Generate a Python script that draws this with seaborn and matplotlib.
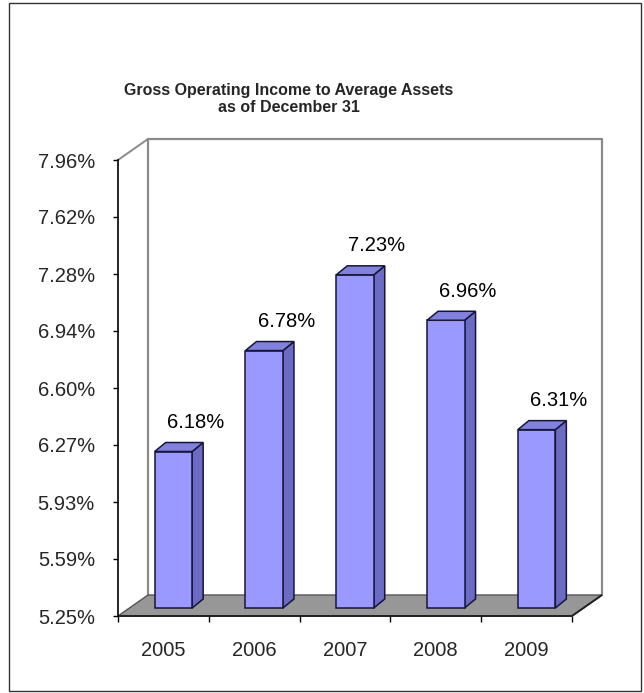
import matplotlib
matplotlib.use("Agg")
import matplotlib.pyplot as plt
from matplotlib.patches import Polygon, Rectangle
import numpy as np
import pandas as pd
import seaborn as sns

# ---- data -------------------------------------------------------------
years = ["2005", "2006", "2007", "2008", "2009"]
ratios = [6.18, 6.78, 7.23, 6.96, 6.31]
value_labels = ["6.18%", "6.78%", "7.23%", "6.96%", "6.31%"]
y_tick_labels = ["5.25%", "5.59%", "5.93%", "6.27%", "6.60%",
                 "6.94%", "7.28%", "7.62%", "7.96%"]
title_lines = ["Gross Operating Income to Average Assets", "as of December 31"]

Y_MIN, Y_MAX = 5.25, 7.96

# ---- style ------------------------------------------------------------
sns.set_theme(style="white")
plt.rcParams["font.family"] = ["Liberation Sans", "DejaVu Sans"]

FRONT = "#9999ff"
SIDE = "#6b6bc4"
TOP = "#8282de"
EDGE = "#16163a"
FLOOR = "#979797"
WALL = "#8a8a8a"
LABEL_SIZE = 14.5

W, H, DPI = 644, 693, 100
fig = plt.figure(figsize=(W / DPI, H / DPI), dpi=DPI)
fig.patch.set_facecolor("white")

# plotting area (front plane of the 3-D box)
ax_l, ax_r, ax_t, ax_b = 118, 572, 160, 616
ax = fig.add_axes([ax_l / W, 1 - ax_b / H, (ax_r - ax_l) / W, (ax_b - ax_t) / H])

df = pd.DataFrame({"year": years, "ratio": ratios})
sns.barplot(data=df, x="year", y="ratio", ax=ax, width=0.413, color=FRONT,
            saturation=1, edgecolor=EDGE, linewidth=1.1, zorder=5)
ax.set_xlim(-0.5, len(years) - 0.5)
ax.set_ylim(Y_MIN, Y_MAX)
ax.set_xlabel("")
ax.set_ylabel("")

# pixel -> data unit helpers for the oblique depth projection
ux = (ax_r - ax_l) / len(years)
uy = (ax_b - ax_t) / (Y_MAX - Y_MIN)


def depth(dx_px, dy_px):
    return dx_px / ux, dy_px / uy


fdx, fdy = depth(30, 21)   # full depth of floor / walls
bdx, bdy = depth(10, 8)    # where the bar front sits
cdx, cdy = depth(11, 9)    # bar thickness

x0, x1 = -0.5, len(years) - 0.5

bars = list(ax.patches)

# floor
floor = Polygon([(x0, Y_MIN), (x1, Y_MIN), (x1 + fdx, Y_MIN + fdy), (x0 + fdx, Y_MIN + fdy)],
                closed=True, facecolor=FLOOR, edgecolor="#555555", linewidth=1.0,
                clip_on=False, zorder=1)
ax.add_patch(floor)
ax.plot([x0, x1, x1 + fdx], [Y_MIN, Y_MIN, Y_MIN + fdy], color="#222222", lw=1.4,
        clip_on=False, zorder=2, solid_capstyle="butt")

# back wall outline and side-wall top edge
ax.plot([x0 + fdx, x0 + fdx, x1 + fdx, x1 + fdx],
        [Y_MIN + fdy, Y_MAX + fdy, Y_MAX + fdy, Y_MIN + fdy],
        color=WALL, lw=1.6, clip_on=False, zorder=0.5)
ax.plot([x0, x0 + fdx], [Y_MAX, Y_MAX + fdy], color=WALL, lw=1.4, clip_on=False, zorder=0.5)

# turn the flat seaborn bars into boxes standing on the floor
for p, val, lab in zip(bars, ratios, value_labels):
    bx = p.get_x() + bdx
    w = p.get_width()
    p.set_x(bx)
    p.set_y(Y_MIN + bdy)
    p.set_height(val - Y_MIN)
    p.set_clip_on(False)
    top = val + bdy
    side = Polygon([(bx + w, Y_MIN + bdy), (bx + w + cdx, Y_MIN + bdy + cdy),
                    (bx + w + cdx, top + cdy), (bx + w, top)],
                   closed=True, facecolor=SIDE, edgecolor=EDGE, linewidth=1.1,
                   clip_on=False, zorder=4)
    cap = Polygon([(bx, top), (bx + w, top), (bx + w + cdx, top + cdy), (bx + cdx, top + cdy)],
                  closed=True, facecolor=TOP, edgecolor=EDGE, linewidth=1.1,
                  clip_on=False, zorder=6)
    ax.add_patch(side)
    ax.add_patch(cap)
    ax.annotate(lab, xy=(bx + w / 2, top), xytext=(22, 29), textcoords="offset pixels",
                ha="center", va="center", fontsize=LABEL_SIZE, color="black",
                annotation_clip=False, zorder=7)

# axes styling
for s in ["top", "right", "bottom"]:
    ax.spines[s].set_visible(False)
ax.spines["left"].set_color("black")
ax.spines["left"].set_linewidth(1.2)
ax.set_facecolor("none")

ax.set_yticks(np.linspace(Y_MIN, Y_MAX, len(y_tick_labels)))
ax.set_yticklabels(y_tick_labels)
ax.tick_params(axis="y", direction="out", length=3.6, width=1, color="black",
               pad=13, labelsize=LABEL_SIZE, left=True)

ax.set_xticks(range(len(years)))
ax.set_xticklabels(years)
ax.set_xticks(np.arange(len(years) + 1) - 0.5, minor=True)
ax.tick_params(axis="x", which="major", length=0, pad=18, labelsize=LABEL_SIZE)
ax.tick_params(axis="x", which="minor", direction="out", length=4.5, width=1,
               color="black", bottom=True)

# title
fig.text(289 / W, 1 - 90 / H, title_lines[0], ha="center", va="center",
         fontsize=11.5, fontweight="bold")
fig.text(289 / W, 1 - 107 / H, title_lines[1], ha="center", va="center",
         fontsize=11.5, fontweight="bold")

# outer frame
fig.add_artist(Rectangle((9 / W, 2 / H), (641 - 9) / W, (690 - 2) / H,
                         transform=fig.transFigure, fill=False,
                         edgecolor="#333333", linewidth=1.0))

fig.savefig("out.png", dpi=DPI)
